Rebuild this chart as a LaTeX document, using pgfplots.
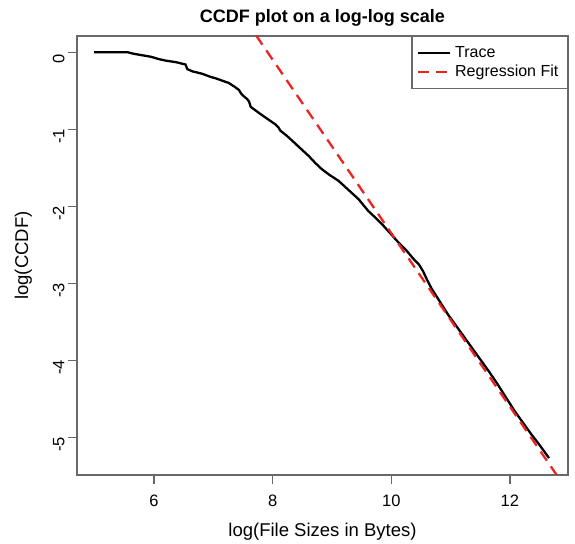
\documentclass[border=0pt]{standalone}
\usepackage{pgfplots}
\pgfplotsset{compat=1.18}
\usepackage{fontspec}
\setmainfont{Liberation Sans}
\definecolor{fitred}{RGB}{235,35,35}
\definecolor{boxgray}{RGB}{105,105,105}
\begin{document}
\begin{tikzpicture}
\begin{axis}[
  scale only axis,
  width=491bp, height=439bp,
  xmin=4.70, xmax=12.98, ymin=-5.49, ymax=0.21,
  axis line style={boxgray, line width=1.3bp},
  tick style={boxgray, line width=1.3bp},
  tick align=outside,
  major tick length=9bp,
  xtick={6,8,10,12},
  ytick={-5,-4,-3,-2,-1,0},
  xtick pos=bottom, ytick pos=left,
  /pgf/number format/assume math mode=true,
  ticklabel style={font=\fontsize{16.5bp}{19bp}\selectfont},
  xticklabel style={yshift=-7bp},
  yticklabel style={rotate=90, anchor=south, xshift=-7bp},
  xlabel={log(File Sizes in Bytes)},
  ylabel={log(CCDF)},
  xlabel style={font=\fontsize{18.5bp}{21bp}\selectfont, yshift=-10bp},
  ylabel style={font=\fontsize{18.5bp}{21bp}\selectfont, yshift=14bp},
  title={CCDF plot on a log-log scale},
  title style={font=\bfseries\fontsize{18bp}{21bp}\selectfont, yshift=0bp},
  legend style={at={(rel axis cs:1,1)}, anchor=north east, draw=boxgray, line width=1.3bp,
    font=\fontsize{16bp}{19bp}\selectfont, inner xsep=5bp, inner ysep=8bp,
    row sep=2bp, nodes={inner xsep=4bp}},
  legend cell align=left,
  legend image post style={line width=2.2bp},
  legend image code/.code={\draw[#1] (4bp,0bp) -- (36bp,0bp);},
]
\addplot[black, line width=2.3bp] coordinates {
(4.99,0.00) (5.30,0.00) (5.55,0.00) (5.65,-0.02) (5.80,-0.04) (5.95,-0.06)
(6.08,-0.09) (6.20,-0.11) (6.37,-0.13) (6.53,-0.16) (6.56,-0.22) (6.65,-0.25)
(6.81,-0.28) (6.95,-0.32) (7.04,-0.34) (7.15,-0.37) (7.26,-0.40) (7.36,-0.45)
(7.43,-0.49) (7.47,-0.54) (7.51,-0.57) (7.57,-0.61) (7.60,-0.64) (7.63,-0.71)
(7.70,-0.75) (7.77,-0.79) (7.90,-0.86) (8.05,-0.94) (8.10,-0.98) (8.13,-1.02)
(8.23,-1.08) (8.33,-1.15) (8.47,-1.25) (8.61,-1.35) (8.72,-1.44) (8.83,-1.52)
(8.97,-1.60) (9.11,-1.67) (9.28,-1.79) (9.45,-1.91) (9.61,-2.06) (9.72,-2.14)
(9.84,-2.23) (9.98,-2.35) (10.12,-2.47) (10.25,-2.57) (10.37,-2.68) (10.47,-2.76)
(10.54,-2.85) (10.60,-2.95) (10.68,-3.07) (10.82,-3.24) (10.96,-3.41) (11.10,-3.56)
(11.24,-3.71) (11.38,-3.86) (11.52,-4.01) (11.66,-4.16) (11.80,-4.32) (11.94,-4.49)
(12.08,-4.66) (12.22,-4.81) (12.36,-4.96) (12.50,-5.10) (12.66,-5.27)
};
\addlegendentry{Trace}
\addplot[fitred, line width=2.3bp, dash pattern=on 11bp off 7bp] coordinates {
(7.55,0.409) (12.90,-5.615)
};
\addlegendentry{Regression Fit}
\coordinate (bl) at (rel axis cs:-0.15682,-0.15718);
\coordinate (tr) at (rel axis cs:1.01426,1.08200);
\end{axis}
\path[use as bounding box] (bl) rectangle (tr);
\end{tikzpicture}
\end{document}
